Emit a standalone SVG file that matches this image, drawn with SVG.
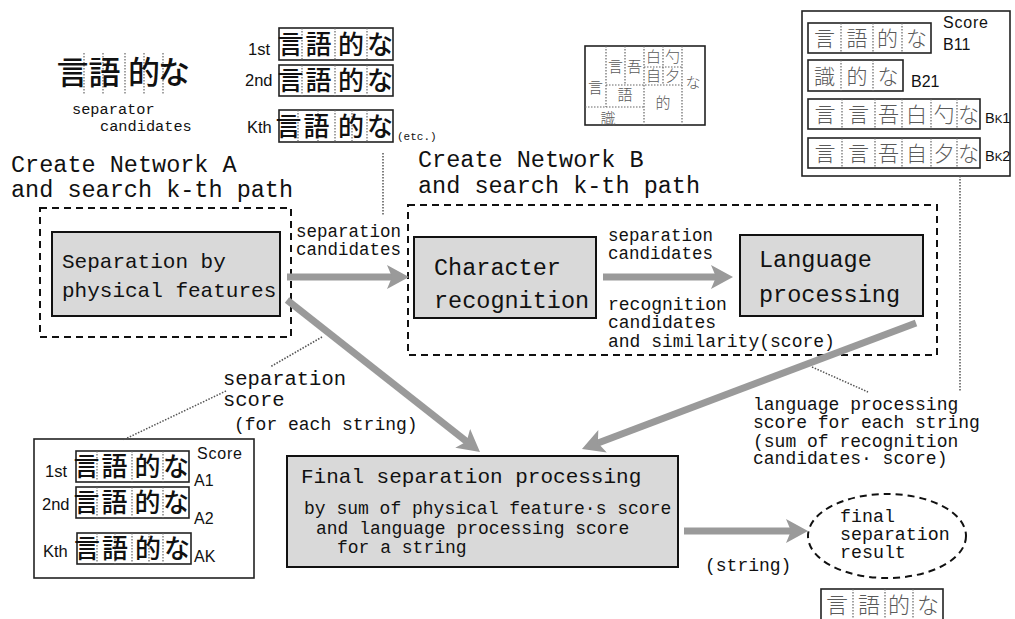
<svg xmlns="http://www.w3.org/2000/svg" width="1015" height="619" viewBox="0 0 1015 619">
  <style>
    .mono { font-family: "Liberation Mono", "DejaVu Sans Mono", monospace; fill: #111; }
    .sans { font-family: "Liberation Sans", Arial, sans-serif; fill: #111; }
    .cjk { font-family: "Noto Sans CJK JP", sans-serif; fill: #111; text-anchor: middle; font-weight: 500; }
    .cjkg { font-family: "Noto Sans CJK JP", sans-serif; fill: #5a5a5a; text-anchor: middle; font-weight: 300; }
    .title { font-size: 23.5px; }
    .lbl { font-size: 18px; }
    .box { fill: #d9d9d9; stroke: #111; stroke-width: 2; }
    .frame { fill: none; stroke: #222; stroke-width: 1.6; }
    .dash { fill: none; stroke: #111; stroke-width: 2; stroke-dasharray: 7 5; }
    .dot { fill: none; stroke: #666; stroke-width: 1.2; stroke-dasharray: 1.5 1.5; }
    .lead { fill: none; stroke: #555; stroke-width: 1.5; stroke-dasharray: 1.5 1.5; }
    .arrow { fill: none; stroke: #9a9a9a; stroke-width: 7; marker-end: url(#head); }
  </style>
  <defs>
    <marker id="head" markerUnits="userSpaceOnUse" markerWidth="22" markerHeight="24" viewBox="0 0 22 24" refX="7" refY="12" orient="auto">
      <path d="M0,0 L22,12 L0,24 L5,12 Z" fill="#9a9a9a"/>
    </marker>
  </defs>
  <rect width="1015" height="619" fill="#fff"/>

  <!-- separator candidates sample -->
  <g id="separator-sample">
    <g class="dot">
      <line x1="84" y1="53" x2="84" y2="95"/>
      <line x1="103" y1="53" x2="103" y2="95"/>
      <line x1="125" y1="53" x2="125" y2="95"/>
      <line x1="144" y1="53" x2="144" y2="95"/>
      <line x1="163" y1="53" x2="163" y2="95"/>
    </g>
    <g class="cjk" font-size="32">
      <text x="72.5" y="84">言</text>
      <text x="104.5" y="84">語</text>
      <text x="144" y="84">的</text>
      <text x="174" y="84">な</text>
    </g>
    <text class="mono" font-size="15.3" x="72" y="114">separator</text>
    <text class="mono" font-size="15.3" x="100" y="131">candidates</text>
  </g>

  <!-- k-th path candidates of network A -->
  <g id="path-list-a">
    <text class="sans" font-size="16.5" x="248" y="55">1st</text>
    <text class="sans" font-size="16.5" x="245" y="86">2nd</text>
    <text class="sans" font-size="16.5" x="247" y="133">Kth</text>
    <rect class="frame" x="279" y="28" width="114" height="32"/>
    <rect class="frame" x="279" y="65" width="114" height="31"/>
    <rect class="frame" x="279" y="110" width="114" height="32"/>
    <g class="dot">
      <line x1="302" y1="28" x2="302" y2="60"/><line x1="335" y1="28" x2="335" y2="60"/><line x1="367" y1="28" x2="367" y2="60"/>
      <line x1="302" y1="65" x2="302" y2="96"/><line x1="335" y1="65" x2="335" y2="96"/><line x1="367" y1="65" x2="367" y2="96"/>
      <line x1="298" y1="110" x2="298" y2="142"/><line x1="318" y1="110" x2="318" y2="142"/><line x1="335" y1="110" x2="335" y2="142"/>
      <line x1="352" y1="110" x2="352" y2="142"/><line x1="367" y1="110" x2="367" y2="142"/>
    </g>
    <g class="cjk" font-size="26">
      <text x="290.5" y="54">言</text><text x="318.5" y="54">語</text><text x="351" y="54">的</text><text x="380" y="54">な</text>
      <text x="290.5" y="90">言</text><text x="318.5" y="90">語</text><text x="351" y="90">的</text><text x="380" y="90">な</text>
      <text x="288.5" y="136">言</text><text x="316.5" y="136">語</text><text x="351" y="136">的</text><text x="380" y="136">な</text>
    </g>
    <text class="mono" font-size="11" x="397" y="140">(etc.)</text>
  </g>

  <!-- network B lattice -->
  <g id="lattice-b">
    <rect class="frame" x="585" y="46" width="120" height="79"/>
    <g class="dot">
      <line x1="606" y1="46" x2="606" y2="107"/>
      <line x1="625" y1="46" x2="625" y2="85"/>
      <line x1="644" y1="46" x2="644" y2="125"/>
      <line x1="663" y1="46" x2="663" y2="85"/>
      <line x1="682" y1="46" x2="682" y2="125"/>
      <line x1="644" y1="67" x2="682" y2="67"/>
      <line x1="606" y1="85" x2="682" y2="85"/>
      <line x1="585" y1="107" x2="644" y2="107"/>
    </g>
    <g class="cjkg" font-size="15" font-weight="400">
      <text x="595.5" y="93">言</text>
      <text x="615.5" y="72">言</text>
      <text x="634.5" y="72">吾</text>
      <text x="625" y="100">語</text>
      <text x="608" y="124">識</text>
      <text x="653.5" y="62">白</text>
      <text x="672.5" y="62">勺</text>
      <text x="653.5" y="81">自</text>
      <text x="672.5" y="81">夕</text>
      <text x="663" y="108">的</text>
      <text x="693" y="88">な</text>
    </g>
  </g>

  <!-- scored candidates of network B -->
  <g id="path-list-b">
    <rect class="frame" x="802" y="11" width="208" height="165"/>
    <rect class="frame" x="808" y="23" width="123" height="30"/>
    <rect class="frame" x="808" y="60" width="95" height="31"/>
    <rect class="frame" x="808" y="99" width="172" height="30"/>
    <rect class="frame" x="808" y="138" width="172" height="30"/>
    <g class="dot">
      <line x1="841" y1="23" x2="841" y2="53"/><line x1="873" y1="23" x2="873" y2="53"/><line x1="902" y1="23" x2="902" y2="53"/>
      <line x1="841" y1="60" x2="841" y2="91"/><line x1="873" y1="60" x2="873" y2="91"/>
      <line x1="842" y1="99" x2="842" y2="129"/><line x1="875" y1="99" x2="875" y2="129"/><line x1="902" y1="99" x2="902" y2="129"/>
      <line x1="931" y1="99" x2="931" y2="129"/><line x1="957" y1="99" x2="957" y2="129"/>
      <line x1="842" y1="138" x2="842" y2="168"/><line x1="875" y1="138" x2="875" y2="168"/><line x1="902" y1="138" x2="902" y2="168"/>
      <line x1="931" y1="138" x2="931" y2="168"/><line x1="957" y1="138" x2="957" y2="168"/>
    </g>
    <g class="cjkg" font-size="21">
      <text x="824.5" y="46">言</text><text x="857" y="46">語</text><text x="887.5" y="46">的</text><text x="916.5" y="46">な</text>
      <text x="824.5" y="84">識</text><text x="857" y="84">的</text><text x="888" y="84">な</text>
      <text x="825" y="122">言</text><text x="858.5" y="122">言</text><text x="888.5" y="122">吾</text><text x="916.5" y="122">白</text><text x="944" y="122">勺</text><text x="968.5" y="122">な</text>
      <text x="825" y="161">言</text><text x="858.5" y="161">言</text><text x="888.5" y="161">吾</text><text x="916.5" y="161">自</text><text x="944" y="161">夕</text><text x="968.5" y="161">な</text>
    </g>
    <g class="sans" font-size="16">
      <text x="943" y="28" letter-spacing="0.8">Score</text>
      <text x="943" y="50">B11</text>
      <text x="911" y="87">B21</text>
    </g>
    <g class="sans" font-size="14.5">
      <text x="985" y="123">B<tspan font-size="11.5">K</tspan>1</text>
      <text x="985" y="161">B<tspan font-size="11.5">K</tspan>2</text>
    </g>
  </g>

  <!-- network A stage -->
  <g id="network-a">
    <text class="mono title" x="11" y="172">Create Network A</text>
    <text class="mono title" x="11" y="197">and search k-th path</text>
    <rect class="dash" x="40" y="208" width="251" height="129"/>
  </g>
  <g id="node-physical">
    <rect class="box" x="52" y="232" width="228" height="84"/>
    <text class="mono" font-size="21" x="62" y="268">Separation by</text>
    <text class="mono" font-size="21" x="62" y="297">physical features</text>
  </g>

  <!-- network B stage -->
  <g id="network-b">
    <text class="mono title" x="418" y="167">Create Network B</text>
    <text class="mono title" x="418" y="193">and search k-th path</text>
    <rect class="dash" x="408" y="205" width="529" height="150"/>
  </g>
  <g id="node-recognition">
    <rect class="box" x="414" y="237" width="182" height="81"/>
    <text class="mono title" x="434" y="275">Character</text>
    <text class="mono title" x="434" y="308">recognition</text>
  </g>
  <g id="node-language">
    <rect class="box" x="740" y="235" width="183" height="81"/>
    <text class="mono title" x="759" y="267">Language</text>
    <text class="mono title" x="759" y="302">processing</text>
  </g>

  <!-- final stage -->
  <g id="node-final">
    <rect class="box" x="287" y="456" width="391" height="111"/>
    <text class="mono" font-size="21" x="301" y="483">Final separation processing</text>
    <text class="mono lbl" x="304" y="514">by sum of physical feature·s score</text>
    <text class="mono lbl" x="316" y="534">and language processing score</text>
    <text class="mono lbl" x="337" y="553">for a string</text>
  </g>
  <g id="node-result">
    <ellipse class="dash" cx="887" cy="536" rx="79" ry="42"/>
    <text class="mono" font-size="18.3" x="840" y="522">final</text>
    <text class="mono" font-size="18.3" x="840" y="540">separation</text>
    <text class="mono" font-size="18.3" x="840" y="558">result</text>
  </g>
  <g id="result-string">
    <rect class="frame" x="821" y="589" width="122" height="40"/>
    <g class="dot">
      <line x1="853" y1="589" x2="853" y2="619"/><line x1="885" y1="589" x2="885" y2="619"/><line x1="913" y1="589" x2="913" y2="619"/>
    </g>
    <g class="cjkg" font-size="22">
      <text x="837" y="613">言</text><text x="869" y="613">語</text><text x="899" y="613">的</text><text x="928" y="613">な</text>
    </g>
  </g>

  <!-- scored candidates of network A -->
  <g id="score-list-a">
    <rect class="frame" x="34" y="439" width="220" height="139"/>
    <rect class="frame" x="76" y="451" width="113" height="31"/>
    <rect class="frame" x="76" y="487" width="113" height="31"/>
    <rect class="frame" x="77" y="533" width="114" height="31"/>
    <g class="dot">
      <line x1="97" y1="451" x2="97" y2="482"/><line x1="132" y1="451" x2="132" y2="482"/><line x1="163" y1="451" x2="163" y2="482"/>
      <line x1="97" y1="487" x2="97" y2="518"/><line x1="132" y1="487" x2="132" y2="518"/><line x1="163" y1="487" x2="163" y2="518"/>
      <line x1="97" y1="533" x2="97" y2="564"/><line x1="115" y1="533" x2="115" y2="564"/><line x1="132" y1="533" x2="132" y2="564"/>
      <line x1="149" y1="533" x2="149" y2="564"/><line x1="163" y1="533" x2="163" y2="564"/>
    </g>
    <g class="cjk" font-size="26">
      <text x="86.5" y="476">言</text><text x="114.5" y="476">語</text><text x="147.5" y="476">的</text><text x="176" y="476">な</text>
      <text x="86.5" y="512">言</text><text x="114.5" y="512">語</text><text x="147.5" y="512">的</text><text x="176" y="512">な</text>
      <text x="87" y="558">言</text><text x="115" y="558">語</text><text x="148" y="558">的</text><text x="177" y="558">な</text>
    </g>
    <g class="sans" font-size="16.5">
      <text x="45" y="477">1st</text>
      <text x="42" y="510">2nd</text>
      <text x="43" y="557">Kth</text>
    </g>
    <g class="sans" font-size="16">
      <text x="197" y="459" letter-spacing="0.8">Score</text>
      <text x="194" y="486">A1</text>
      <text x="194" y="524">A2</text>
      <text x="194" y="562">AK</text>
    </g>
  </g>

  <!-- connectors -->
  <g id="connectors">
    <line class="arrow" x1="287" y1="277" x2="394" y2="277"/>
    <line class="arrow" x1="603" y1="277" x2="718" y2="277"/>
    <line class="arrow" x1="287" y1="300" x2="468.2" y2="442.7"/>
    <line class="arrow" x1="916" y1="323" x2="596" y2="443.7"/>
    <line class="arrow" x1="684" y1="531" x2="793" y2="531"/>
    <line class="lead" x1="383" y1="153" x2="383" y2="215"/>
    <line class="lead" x1="960" y1="176" x2="960" y2="392"/>
    <line class="lead" x1="812" y1="367" x2="868" y2="392"/>
    <line class="lead" x1="322" y1="337" x2="270" y2="367"/>
    <line class="lead" x1="226" y1="391" x2="123" y2="440"/>
  </g>

  <!-- connector labels -->
  <g id="labels">
    <text class="mono" font-size="17.5" x="296" y="237">separation</text>
    <text class="mono" font-size="17.5" x="296" y="255">candidates</text>
    <text class="mono" font-size="17.5" x="608" y="241">separation</text>
    <text class="mono" font-size="17.5" x="608" y="259">candidates</text>
    <text class="mono lbl" x="608" y="310">recognition</text>
    <text class="mono lbl" x="608" y="328">candidates</text>
    <text class="mono lbl" x="608" y="347">and similarity(score)</text>
    <text class="mono" font-size="20.5" x="223" y="385">separation</text>
    <text class="mono" font-size="20.5" x="223" y="406">score</text>
    <text class="mono lbl" x="234" y="430">(for each string)</text>
    <text class="mono lbl" x="753" y="410">language processing</text>
    <text class="mono lbl" x="753" y="428">score for each string</text>
    <text class="mono lbl" x="753" y="447">(sum of recognition</text>
    <text class="mono lbl" x="753" y="464">candidates· score)</text>
    <text class="mono lbl" x="705" y="571">(string)</text>
  </g>
</svg>
